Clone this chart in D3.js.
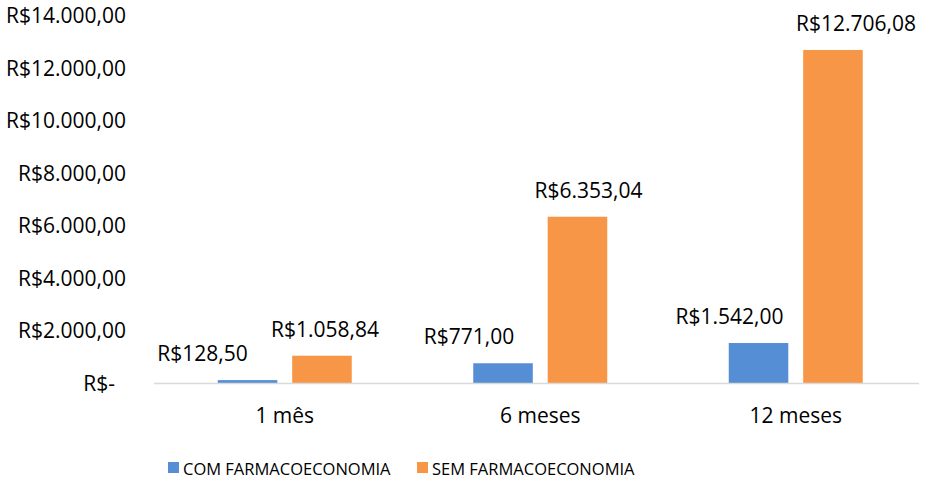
<!DOCTYPE html>
<html>
<head>
<meta charset="utf-8">
<script src="https://cdn.jsdelivr.net/npm/d3@7"></script>
<style>
  body { margin: 0; background: #fff; }
  svg text { font-family: "Open Sans", sans-serif; fill: #000; }
</style>
</head>
<body>
<svg id="chart" width="946" height="479"></svg>
<script>
// dados do gráfico
const categorias = ["1 mês", "6 meses", "12 meses"];
const series = ["COM FARMACOECONOMIA", "SEM FARMACOECONOMIA"];
const comFarmaco = [128.50, 771.00, 1542.00];
const semFarmaco = [1058.84, 6353.04, 12706.08];
const ticksY = [0, 2000, 4000, 6000, 8000, 10000, 12000, 14000];
const cores = ["#558ED5", "#F79646"];

// deslocamento horizontal dos rótulos (ajustados à mão no original)
const desloc = [[-45, 3], [-34, 11], [-29, 23]];

const svg = d3.select("#chart");

const x = d3.scaleBand()
    .domain(categorias)
    .range([157, 923.5])
    .paddingInner(0)
    .paddingOuter(0);

const xs = d3.scaleBand()
    .domain(series)
    .range([x.bandwidth() / 2 - 67, x.bandwidth() / 2 + 67])
    .paddingInner(0.2);

const y = d3.scaleLinear()
    .domain([0, 14000])
    .range([383.5, 16]);

// formatação em reais
const brl = v => {
    if (v === 0) return "R$-";
    const [int, dec] = v.toFixed(2).split(".");
    return "R$" + int.replace(/\B(?=(\d{3})+(?!\d))/g, ".") + "," + dec;
};

// eixo Y (só texto)
svg.append("g")
    .selectAll("text")
    .data(ticksY)
    .enter().append("text")
    .attr("x", d => d === 0 ? 115 : 126)
    .attr("y", d => y(d))
    .attr("dy", "0.35em")
    .attr("text-anchor", "end")
    .style("font-size", "21px")
    .text(brl);

// barras
const grupos = svg.append("g")
    .selectAll("g")
    .data(categorias)
    .enter().append("g")
    .attr("transform", d => `translate(${x(d)},0)`);

const linhas = categorias.map((c, i) => [
    { s: series[0], v: comFarmaco[i], k: 0, i },
    { s: series[1], v: semFarmaco[i], k: 1, i }
]);

grupos.selectAll("rect")
    .data((d, i) => linhas[i])
    .enter().append("rect")
    .attr("x", d => xs(d.s))
    .attr("y", d => y(d.v))
    .attr("width", xs.bandwidth())
    .attr("height", d => y(0) - y(d.v))
    .attr("fill", d => cores[d.k]);

grupos.selectAll("text")
    .data((d, i) => linhas[i])
    .enter().append("text")
    .attr("x", d => xs(d.s) + xs.bandwidth() / 2 + desloc[d.i][d.k])
    .attr("y", d => y(d.v) - 19)
    .attr("text-anchor", "middle")
    .style("font-size", "21px")
    .text(d => brl(d.v));

// eixo X
svg.append("line")
    .attr("x1", 154).attr("x2", 919)
    .attr("y1", y(0)).attr("y2", y(0))
    .attr("stroke", "#d9d9d9")
    .attr("stroke-width", 1.5);

svg.append("g")
    .selectAll("text")
    .data(categorias)
    .enter().append("text")
    .attr("x", d => x(d) + x.bandwidth() / 2)
    .attr("y", 423)
    .attr("text-anchor", "middle")
    .style("font-size", "21px")
    .text(d => d);

// legenda
const legX = [168, 417];
const leg = svg.append("g")
    .selectAll("g")
    .data(series)
    .enter().append("g")
    .attr("transform", (d, i) => `translate(${legX[i]},462)`);

leg.append("rect")
    .attr("width", 11).attr("height", 11)
    .attr("fill", (d, i) => cores[i]);

leg.append("text")
    .attr("x", 15)
    .attr("y", 12.5)
    .style("font-size", "16.5px")
    .text(d => d);
</script>
</body>
</html>
